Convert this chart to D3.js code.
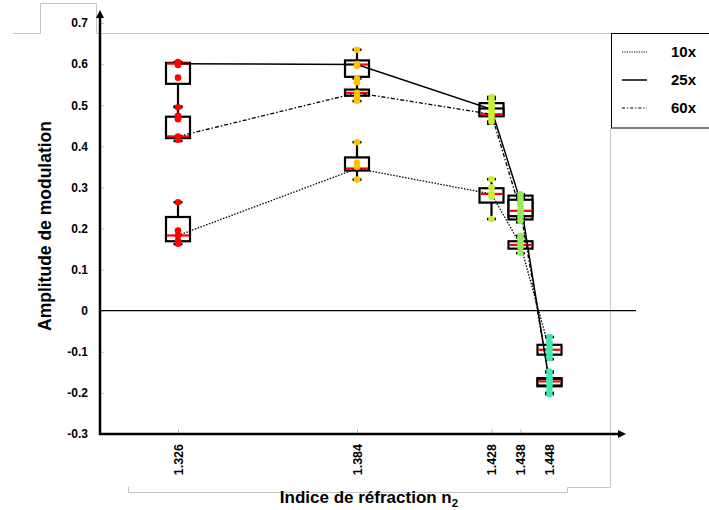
<!DOCTYPE html>
<html>
<head>
<meta charset="utf-8">
<script src="https://cdn.jsdelivr.net/npm/d3@7/dist/d3.min.js"></script>
<style>
  html, body { margin: 0; padding: 0; background: #fff; }
  svg { display: block; font-family: Arial, "Liberation Sans", sans-serif; }
</style>
</head>
<body>
<svg id="chart" width="709" height="510"></svg>
<script>
// ---------- data ----------
const xValues = [1.326, 1.384, 1.428, 1.438, 1.448];
const xTickLabels = ["1.326", "1.384", "1.428", "1.438", "1.448"];
const yTickValues = [-0.3, -0.2, -0.1, 0, 0.1, 0.2, 0.3, 0.4, 0.5, 0.6, 0.7];
const yTickLabels = ["-0.3", "-0.2", "-0.1", "0", "0.1", "0.2", "0.3", "0.4", "0.5", "0.6", "0.7"];
const pointColors = ["#ff0000", "#ffc000", "#c8ee30", "#96ea5c", "#40e8b4"];
const seriesNames = ["10x", "25x", "60x"];

// box stats per x: [low whisker, q1, median, q3, high whisker]
const box10x = [
  [0.162, 0.169, 0.183, 0.228, 0.264],
  [0.319, 0.341, 0.346, 0.373, 0.410],
  [0.223, 0.263, 0.284, 0.298, 0.320],
  [0.140, 0.151, 0.160, 0.169, 0.182],
  [-0.118, -0.107, -0.095, -0.083, -0.064]
];
const box25x = [
  [0.497, 0.552, 0.601, 0.603, 0.605],
  [0.569, 0.569, 0.599, 0.609, 0.635],
  [0.455, 0.475, 0.490, 0.505, 0.520],
  [0.215, 0.222, 0.266, 0.280, 0.283],
  [-0.203, -0.184, -0.176, -0.164, -0.148]
];
const box60x = [
  [0.413, 0.420, 0.424, 0.472, 0.495],
  [0.510, 0.523, 0.530, 0.538, 0.565],
  [0.460, 0.473, 0.478, 0.492, 0.515],
  [0.225, 0.230, 0.243, 0.270, 0.275],
  [-0.200, -0.182, -0.172, -0.166, -0.150]
];
// individual measurements per x
const pts10x = [
  [0.264, 0.195, 0.183, 0.170, 0.163],
  [0.410, 0.360, 0.350, 0.319],
  [0.320, 0.300, 0.285, 0.277, 0.223],
  [0.182, 0.172, 0.163, 0.155, 0.140],
  [-0.064, -0.078, -0.088, -0.097, -0.106, -0.115]
];
const pts25x = [
  [0.605, 0.598, 0.567],
  [0.635, 0.600, 0.596],
  [0.520, 0.512, 0.504, 0.497, 0.490, 0.482],
  [0.283, 0.274, 0.266, 0.256, 0.245],
  [-0.148, -0.160, -0.170, -0.180, -0.190, -0.203]
];
const pts60x = [
  [0.495, 0.474, 0.466, 0.424, 0.416],
  [0.564, 0.556, 0.530, 0.520, 0.511],
  [0.475, 0.468, 0.460],
  [0.238, 0.228, 0.218],
  [-0.168, -0.176]
];

// ---------- chart ----------
const svg = d3.select("#chart");
const x = d3.scaleLinear().domain(xValues).range([178, 357, 491.5, 520.5, 549.5]);
const y = d3.scaleLinear().domain([-0.3, 0.7]).range([434, 23]);
const x0 = 100, xEnd = 626, yTop = 10;

// light gray frame lines
const gray = "#c4c4c4";
svg.append("path")
  .attr("d", "M13,33.5H40.5V3.5H96.5V33.5H611")
  .attr("fill", "none").attr("stroke", gray).attr("stroke-width", 1);
svg.append("path")
  .attr("d", "M610.5,128V487.5H567.5V492.5H128.5V487")
  .attr("fill", "none").attr("stroke", gray).attr("stroke-width", 1);

// y axis ticks & labels
const yAxis = d3.axisLeft(y).tickValues(yTickValues)
  .tickFormat((d, i) => yTickLabels[i]).tickSize(-4).tickPadding(12);
const gy = svg.append("g").attr("transform", `translate(${x0},0)`).call(yAxis);
gy.select(".domain").remove();
gy.selectAll(".tick line").attr("stroke", gray);
gy.selectAll(".tick text").attr("font-size", 12).attr("font-weight", "bold")
  .attr("font-family", "Arial, 'Liberation Sans', sans-serif").attr("fill", "#000");

// x axis ticks & labels
const xAxis = d3.axisBottom(x).tickValues(xValues)
  .tickFormat((d, i) => xTickLabels[i]).tickSize(-5).tickPadding(0);
const gx = svg.append("g").attr("transform", `translate(0,${y(-0.3)})`).call(xAxis);
gx.select(".domain").remove();
gx.selectAll(".tick line").attr("stroke", gray).attr("opacity", (d, i) => i === 4 ? 0 : 1);
gx.selectAll(".tick text")
  .attr("font-size", 12.5).attr("font-weight", "bold")
  .attr("font-family", "Arial, 'Liberation Sans', sans-serif").attr("fill", "#000")
  .attr("transform", "rotate(-90)")
  .attr("x", -10).attr("y", 0).attr("dy", "0.35em")
  .attr("text-anchor", "end");

// zero line
svg.append("line").attr("x1", x0).attr("x2", 636)
  .attr("y1", y(0)).attr("y2", y(0)).attr("stroke", "#000").attr("stroke-width", 1.3);

// main axes with arrows
const yb = y(-0.3);
svg.append("line").attr("x1", x0).attr("x2", x0).attr("y1", yb + 1).attr("y2", yTop + 6)
  .attr("stroke", "#000").attr("stroke-width", 2.5);
svg.append("path").attr("d", `M${x0 - 4},${yTop + 8}L${x0},${yTop}L${x0 + 4},${yTop + 8}Z`).attr("fill", "#000");
svg.append("line").attr("x1", x0 - 1).attr("x2", xEnd - 6).attr("y1", yb).attr("y2", yb)
  .attr("stroke", "#000").attr("stroke-width", 2.5);
svg.append("path").attr("d", `M${xEnd - 8},${yb - 4}L${xEnd},${yb}L${xEnd - 8},${yb + 4}Z`).attr("fill", "#000");

// axis titles
svg.append("text").attr("transform", `translate(51,226) rotate(-90)`)
  .attr("text-anchor", "middle").attr("font-size", 17.5).attr("font-weight", "bold")
  .text("Amplitude de modulation");
const xt = svg.append("text").attr("x", 369).attr("y", 503)
  .attr("text-anchor", "middle").attr("font-size", 17).attr("font-weight", "bold");
xt.append("tspan").text("Indice de réfraction n");
xt.append("tspan").attr("font-size", 11.5).attr("dy", 4).text("2");

// boxes
const boxW = 24, capW = 9;
const allBoxes = [box10x, box25x, box60x];
const allPts = [pts10x, pts25x, pts60x];
const gBoxes = svg.append("g");
allBoxes.forEach(boxes => {
  boxes.forEach((b, i) => {
    const cx = x(xValues[i]);
    const g = gBoxes.append("g");
    // whiskers
    g.append("line").attr("x1", cx).attr("x2", cx).attr("y1", y(b[4])).attr("y2", y(b[3]))
      .attr("stroke", "#000").attr("stroke-width", 2.2);
    g.append("line").attr("x1", cx).attr("x2", cx).attr("y1", y(b[1])).attr("y2", y(b[0]))
      .attr("stroke", "#000").attr("stroke-width", 2.2);
    [b[0], b[4]].forEach(v => {
      g.append("line").attr("x1", cx - capW / 2).attr("x2", cx + capW / 2)
        .attr("y1", y(v)).attr("y2", y(v)).attr("stroke", "#000").attr("stroke-width", 2.5);
    });
    g.append("rect").attr("x", cx - boxW / 2).attr("y", y(b[3]))
      .attr("width", boxW).attr("height", Math.max(1, y(b[1]) - y(b[3])))
      .attr("fill", "#fff").attr("stroke", "#000").attr("stroke-width", 2.2);
    g.append("line").attr("x1", cx - boxW / 2 + 1).attr("x2", cx + boxW / 2 - 1)
      .attr("y1", y(b[2])).attr("y2", y(b[2])).attr("stroke", "#ff0000").attr("stroke-width", 2.2);
  });
});

// series lines through medians
const dashes = ["1.5,1.5", null, "4,2,1.5,2"];
const lineGen = d3.line().x((d, i) => x(xValues[i])).y(d => y(d[2]));
allBoxes.forEach((boxes, k) => {
  svg.append("path").attr("d", lineGen(boxes)).attr("fill", "none")
    .attr("stroke", "#000").attr("stroke-width", k === 1 ? 1.5 : 1.3)
    .attr("stroke-dasharray", dashes[k]);
});

// individual points
allPts.forEach(ptsArr => {
  ptsArr.forEach((arr, i) => {
    svg.append("g").selectAll("circle").data(arr).join("circle")
      .attr("cx", x(xValues[i])).attr("cy", d => y(d)).attr("r", 3.3)
      .attr("fill", pointColors[i]);
  });
});

// legend
const lg = svg.append("g");
lg.append("rect").attr("x", 611.5).attr("y", 33.5).attr("width", 110).attr("height", 94.5)
  .attr("fill", "#fff").attr("stroke", "#000").attr("stroke-width", 1);
seriesNames.forEach((name, k) => {
  const ly = 52 + k * 28;
  lg.append("line").attr("x1", 622).attr("x2", 647).attr("y1", ly).attr("y2", ly)
    .attr("stroke", "#000").attr("stroke-width", k === 1 ? 1.5 : 1.1)
    .attr("stroke-dasharray", k === 0 ? "1.2,1.2" : (k === 2 ? "3,2,1.2,2" : null));
  lg.append("text").attr("x", 671).attr("y", ly).attr("dy", "0.36em")
    .attr("font-size", 15).attr("font-weight", "bold").text(name);
});
</script>
</body>
</html>
